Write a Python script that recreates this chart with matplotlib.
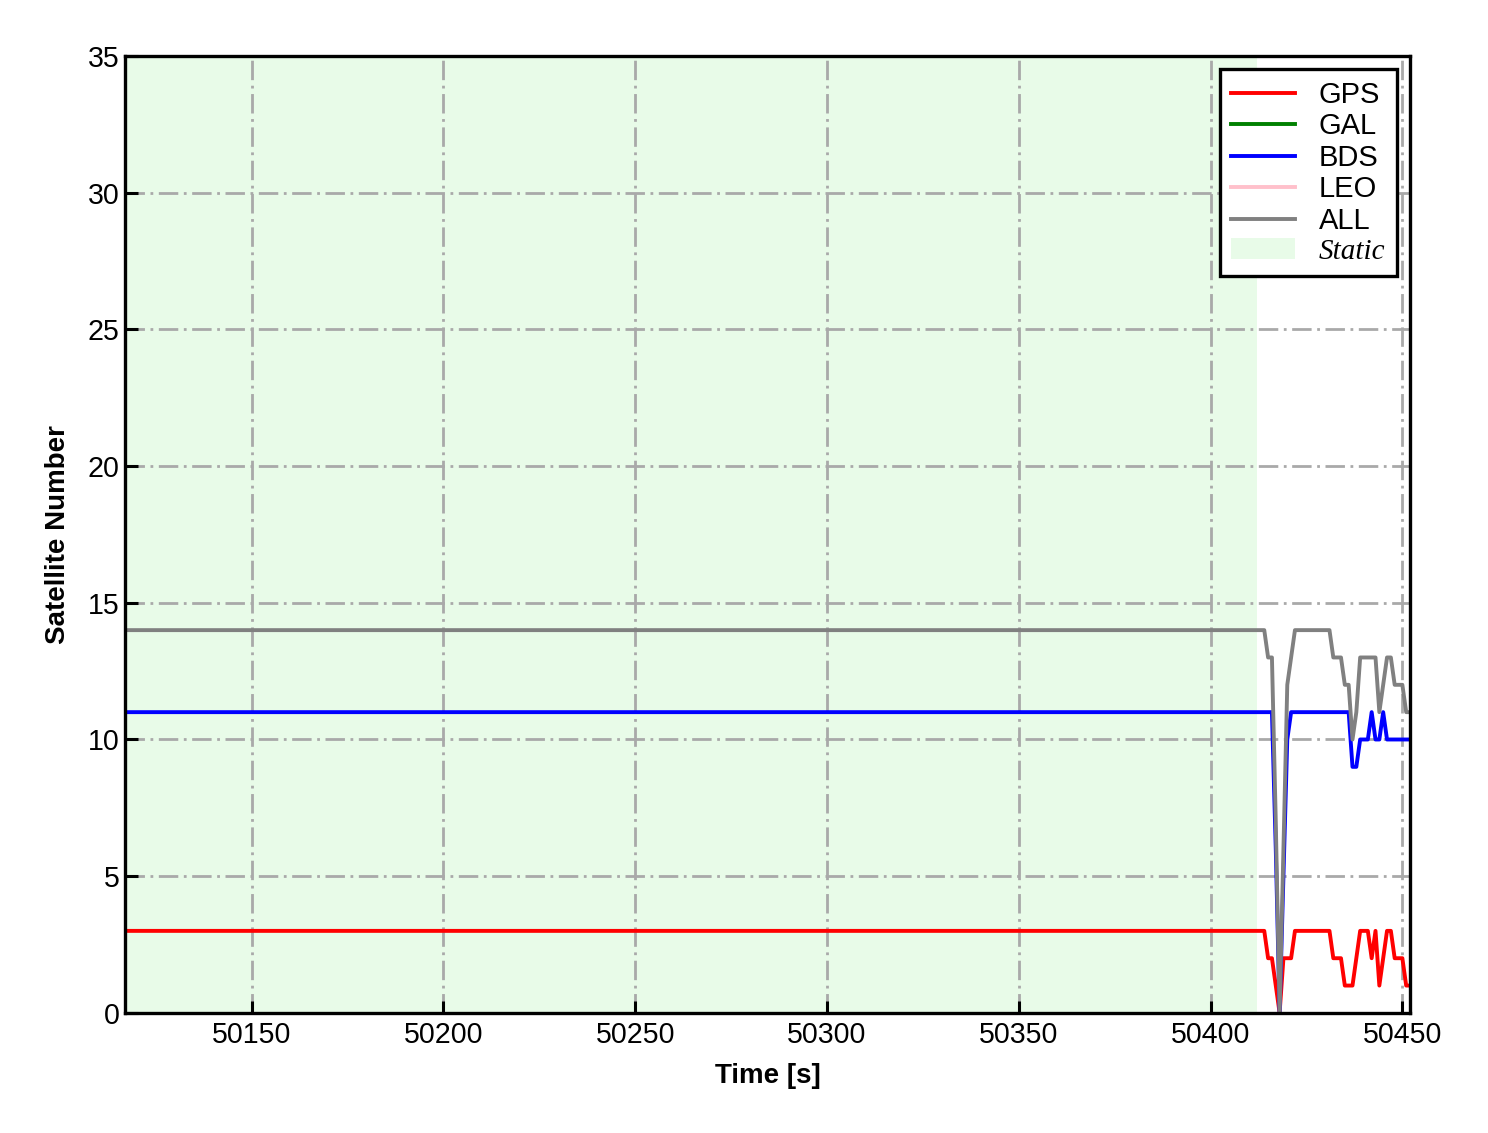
import numpy as np
import matplotlib
matplotlib.use("Agg")
import matplotlib.pyplot as plt

plt.rcParams['font.family'] = ['Liberation Sans', 'DejaVu Sans']
plt.rcParams['font.size'] = 10

# breakpoints (time, count); lines are drawn point to point
t = [50117, 50412, 50413, 50414, 50415, 50416, 50417, 50418, 50419, 50420,
     50421, 50422, 50431, 50432, 50433, 50434, 50435, 50436, 50437, 50438,
     50439, 50440, 50441, 50442, 50443, 50444, 50445, 50446, 50447, 50448,
     50449, 50450, 50451, 50452]
gps = [3, 3, 3, 3, 2, 2, 1, 0, 2, 2,
       2, 3, 3, 2, 2, 2, 1, 1, 1, 2,
       3, 3, 3, 2, 3, 1, 2, 3, 3, 2,
       2, 2, 1, 1]
bds = [11, 11, 11, 11, 11, 11, 6, 0, 5, 10,
       11, 11, 11, 11, 11, 11, 11, 11, 9, 9,
       10, 10, 10, 11, 10, 10, 11, 10, 10, 10,
       10, 10, 10, 10]
all_sat = [14, 14, 14, 14, 13, 13, 7, 0, 6, 12,
           13, 14, 14, 13, 13, 13, 12, 12, 10, 11,
           13, 13, 13, 13, 13, 11, 12, 13, 13, 12,
           12, 12, 11, 11]
gal = []
leo = []

static_start = 50117
static_end = 50412
xmin, xmax = 50117, 50452

fig = plt.figure(figsize=(7.44, 5.665), dpi=200)
ax = fig.add_axes([0.084, 0.106, 0.8636, 0.8446])

ax.axvspan(static_start, static_end, color='lightgreen', alpha=0.2, lw=0, label='Static', zorder=0)
lw = 1.4
ax.plot(t, gps, color='red', lw=lw, label='GPS')
ax.plot(gal, gal, color='green', lw=lw, label='GAL')
ax.plot(t, bds, color='blue', lw=lw, label='BDS')
ax.plot(leo, leo, color='pink', lw=lw, label='LEO')
ax.plot(t, all_sat, color='gray', lw=lw, label='ALL')

ax.set_xlim(xmin, xmax)
ax.set_ylim(0, 35)
ax.set_xticks(np.arange(50150, 50451, 50))
ax.set_yticks(np.arange(0, 36, 5))
ax.grid(True, color='darkgray', lw=1.0, dashes=(7, 2, 1, 2))
ax.tick_params(direction='in', length=4.5, width=1.1, labelsize=10.3, pad=2)
ax.tick_params(axis='x', pad=3)
for s in ax.spines.values():
    s.set_linewidth(1.2)
    s.set_zorder(5)

ax.set_xlabel('Time [s]', fontweight='bold', fontsize=10, labelpad=5)
ax.set_ylabel('Satellite Number', fontweight='bold', fontsize=10, labelpad=6)

h, l = ax.get_legend_handles_labels()
order = [1, 2, 3, 4, 5, 0]
leg = ax.legend([h[i] for i in order], [l[i] for i in order], loc='upper right',
                fancybox=False, edgecolor='black', framealpha=1, labelspacing=0.12,
                handlelength=2.2, borderaxespad=0.45, fontsize=10.5)
leg.get_frame().set_linewidth(1.2)
st = leg.get_texts()[-1]
st.set_fontfamily('Liberation Serif')
st.set_fontstyle('italic')

fig.savefig('out.png', dpi=200)
